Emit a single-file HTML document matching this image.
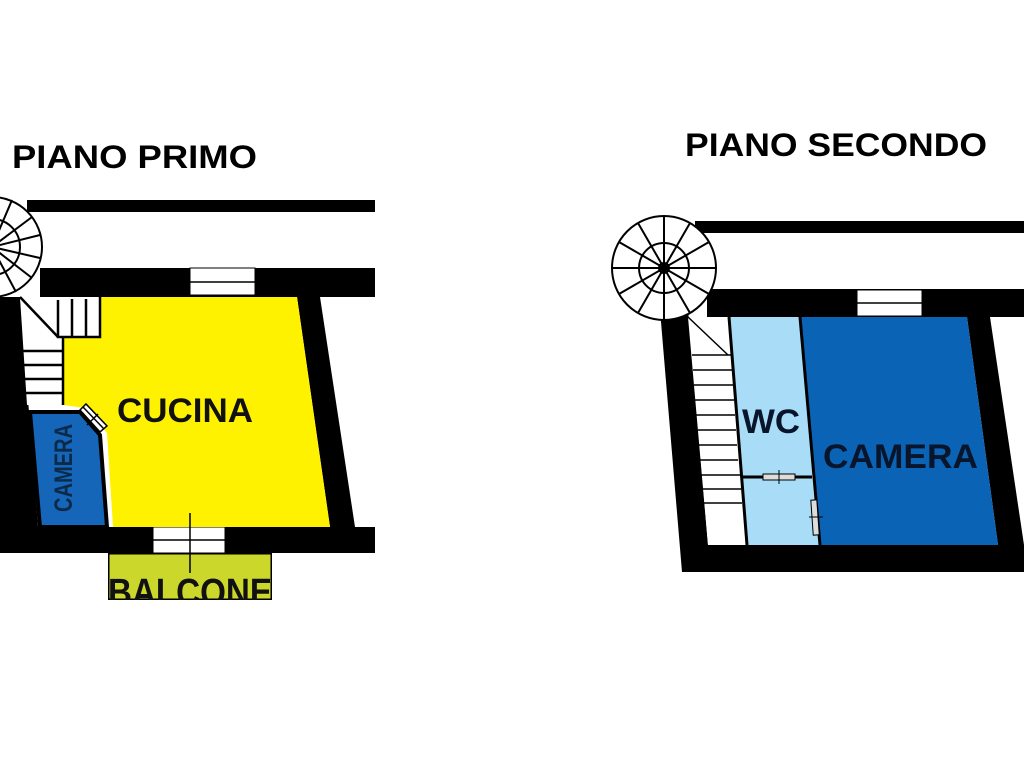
<!DOCTYPE html>
<html><head><style>html,body{margin:0;padding:0;background:#fff;}svg{display:block}</style></head>
<body>
<svg width="1024" height="768" viewBox="0 0 1024 768" xmlns="http://www.w3.org/2000/svg">
<rect width="1024" height="768" fill="#fff"/>
<g font-family="Liberation Sans, sans-serif" font-weight="bold" fill="#000">
<text x="12" y="168" font-size="32" textLength="245" lengthAdjust="spacingAndGlyphs">PIANO PRIMO</text>
<text x="685" y="156" font-size="32" textLength="302" lengthAdjust="spacingAndGlyphs">PIANO SECONDO</text>
</g>

<!-- LEFT PLAN -->
<g stroke="#000" stroke-width="2" fill="#fff">
<circle cx="-8" cy="247" r="50"/>
<circle cx="-8" cy="247" r="28" fill="none"/>
<line x1="-8" y1="247" x2="32" y2="217"/>
<line x1="-8" y1="247" x2="40" y2="235"/>
<line x1="-8" y1="247" x2="40" y2="258"/>
<line x1="-8" y1="247" x2="32" y2="278"/>
<line x1="-8" y1="247" x2="16" y2="292"/>
<line x1="-8" y1="247" x2="12" y2="200"/>
</g>
<rect x="27" y="200" width="348" height="12" fill="#000"/>
<rect x="40" y="268" width="335" height="29" fill="#000"/>
<rect x="190" y="268" width="65" height="27" fill="#fff" stroke="#000" stroke-width="1"/>
<line x1="190" y1="282" x2="255" y2="282" stroke="#000" stroke-width="1.5"/>
<polygon points="0,297 20,297 38,527 13,553 0,553" fill="#000"/>
<polygon points="297,297 320,297 355,527 330,527" fill="#000"/>
<rect x="13" y="527" width="362" height="26" fill="#000"/>
<rect x="153" y="527" width="72" height="26" fill="#fff" stroke="#000" stroke-width="1"/>
<line x1="153" y1="540" x2="225" y2="540" stroke="#000" stroke-width="1.5"/>
<polygon points="100,297 297,297 330,527 113,527 107,433 85,408 63,405 63,337 100,337" fill="#fff200"/>
<polygon points="20,297 100,297 100,337 63,337 63,405 27,405" fill="#fff"/>
<g stroke="#000" stroke-width="2.5" fill="none">
<line x1="20" y1="297" x2="58" y2="337"/>
<polyline points="58,300 58,337 100,337 100,297"/>
<line x1="72" y1="299" x2="72" y2="337"/>
<line x1="86" y1="299" x2="86" y2="337"/>
<line x1="63" y1="337" x2="63" y2="405"/>
<line x1="23" y1="351" x2="63" y2="351"/>
<line x1="24" y1="365" x2="63" y2="365"/>
<line x1="25" y1="379" x2="63" y2="379"/>
<line x1="26" y1="393" x2="63" y2="393"/>
</g>
<polygon points="30,412 80,412 100,435 107,527 40,527" fill="#1565b8" stroke="#000" stroke-width="4"/>
<g stroke="#000" stroke-width="1.5" fill="#fff">
<polygon points="80,410 86,404 107,426 100,432"/>
<line x1="83" y1="407" x2="104" y2="429"/>
<line x1="87" y1="425" x2="98" y2="414"/>
</g>
<text font-family="Liberation Sans, sans-serif" font-weight="bold" font-size="25" fill="#0b2a4a" transform="translate(72,512) rotate(-90)" textLength="88" lengthAdjust="spacingAndGlyphs">CAMERA</text>
<text x="117" y="422" font-family="Liberation Sans, sans-serif" font-weight="bold" font-size="34" fill="#111" textLength="136" lengthAdjust="spacingAndGlyphs">CUCINA</text>
<line x1="190" y1="513" x2="190" y2="573" stroke="#000" stroke-width="1.5"/>
<svg x="108" y="553" width="164" height="47" overflow="hidden">
<rect x="0" y="0" width="164" height="47" fill="#cbd82b" stroke="#000" stroke-width="3"/>
<line x1="82" y1="0" x2="82" y2="20" stroke="#000" stroke-width="1.5"/>
<text x="0" y="52" font-family="Liberation Sans, sans-serif" font-weight="bold" font-size="38" fill="#111" textLength="164" lengthAdjust="spacingAndGlyphs">BALCONE</text>
</svg>

<!-- RIGHT PLAN -->
<rect x="695" y="221" width="329" height="12" fill="#000"/>
<rect x="707" y="289" width="317" height="28" fill="#000"/>
<rect x="857" y="290" width="65" height="26" fill="#fff" stroke="#000" stroke-width="1"/>
<line x1="857" y1="303" x2="922" y2="303" stroke="#000" stroke-width="1.5"/>
<polygon points="660,310 688,310 708,545 683,572 682,572" fill="#000"/>
<polygon points="967,317 990,317 1024,545 998,545" fill="#000"/>
<rect x="682" y="545" width="342" height="27" fill="#000"/>
<g stroke="#000" stroke-width="2" fill="#fff">
<circle cx="664" cy="268" r="52"/>
<circle cx="664" cy="268" r="25" fill="none"/>
<circle cx="664" cy="268" r="5"/>
<g fill="none">
<line x1="664" y1="268" x2="664" y2="216"/>
<line x1="664" y1="268" x2="690" y2="223"/>
<line x1="664" y1="268" x2="709" y2="242"/>
<line x1="664" y1="268" x2="716" y2="268"/>
<line x1="664" y1="268" x2="709" y2="294"/>
<line x1="664" y1="268" x2="690" y2="313"/>
<line x1="664" y1="268" x2="664" y2="320"/>
<line x1="664" y1="268" x2="638" y2="313"/>
<line x1="664" y1="268" x2="619" y2="294"/>
<line x1="664" y1="268" x2="612" y2="268"/>
<line x1="664" y1="268" x2="619" y2="242"/>
<line x1="664" y1="268" x2="638" y2="223"/>
</g>
</g>
<polygon points="688,317 729,317 747,545 708,545" fill="#fff"/>
<g stroke="#000" stroke-width="1.5">
<line x1="688" y1="317" x2="728" y2="355"/>
<line x1="692" y1="355" x2="731" y2="355"/>
<line x1="693" y1="370" x2="732" y2="370"/>
<line x1="694" y1="385" x2="733" y2="385"/>
<line x1="695" y1="400" x2="734" y2="400"/>
<line x1="696" y1="415" x2="735" y2="415"/>
<line x1="697" y1="430" x2="736" y2="430"/>
<line x1="698" y1="445" x2="737" y2="445"/>
<line x1="700" y1="460" x2="738" y2="460"/>
<line x1="701" y1="475" x2="740" y2="475"/>
<line x1="702" y1="489" x2="741" y2="489"/>
<line x1="703" y1="503" x2="742" y2="503"/>
</g>
<polygon points="729,317 800,317 820,545 747,545" fill="#a8dcf7"/>
<polygon points="800,317 967,317 998,545 820,545" fill="#0b63b5"/>
<g stroke="#000" stroke-width="3">
<line x1="729" y1="317" x2="747" y2="545"/>
<line x1="800" y1="317" x2="820" y2="545"/>
<line x1="743" y1="477" x2="812" y2="477"/>
</g>
<rect x="763" y="474" width="32" height="6" fill="#ddd" stroke="#000" stroke-width="1"/>
<line x1="779" y1="470" x2="779" y2="484" stroke="#000" stroke-width="1"/>
<rect x="812" y="500" width="6" height="35" fill="#ddd" stroke="#000" stroke-width="1" transform="rotate(-4 815 517)"/>
<line x1="809" y1="517" x2="823" y2="517" stroke="#000" stroke-width="1"/>
<text x="742" y="433" font-family="Liberation Sans, sans-serif" font-weight="bold" font-size="34" fill="#08152a" textLength="58" lengthAdjust="spacingAndGlyphs">WC</text>
<text x="823" y="468" font-family="Liberation Sans, sans-serif" font-weight="bold" font-size="34" fill="#08152a" textLength="155" lengthAdjust="spacingAndGlyphs">CAMERA</text>
</svg>
</body></html>
